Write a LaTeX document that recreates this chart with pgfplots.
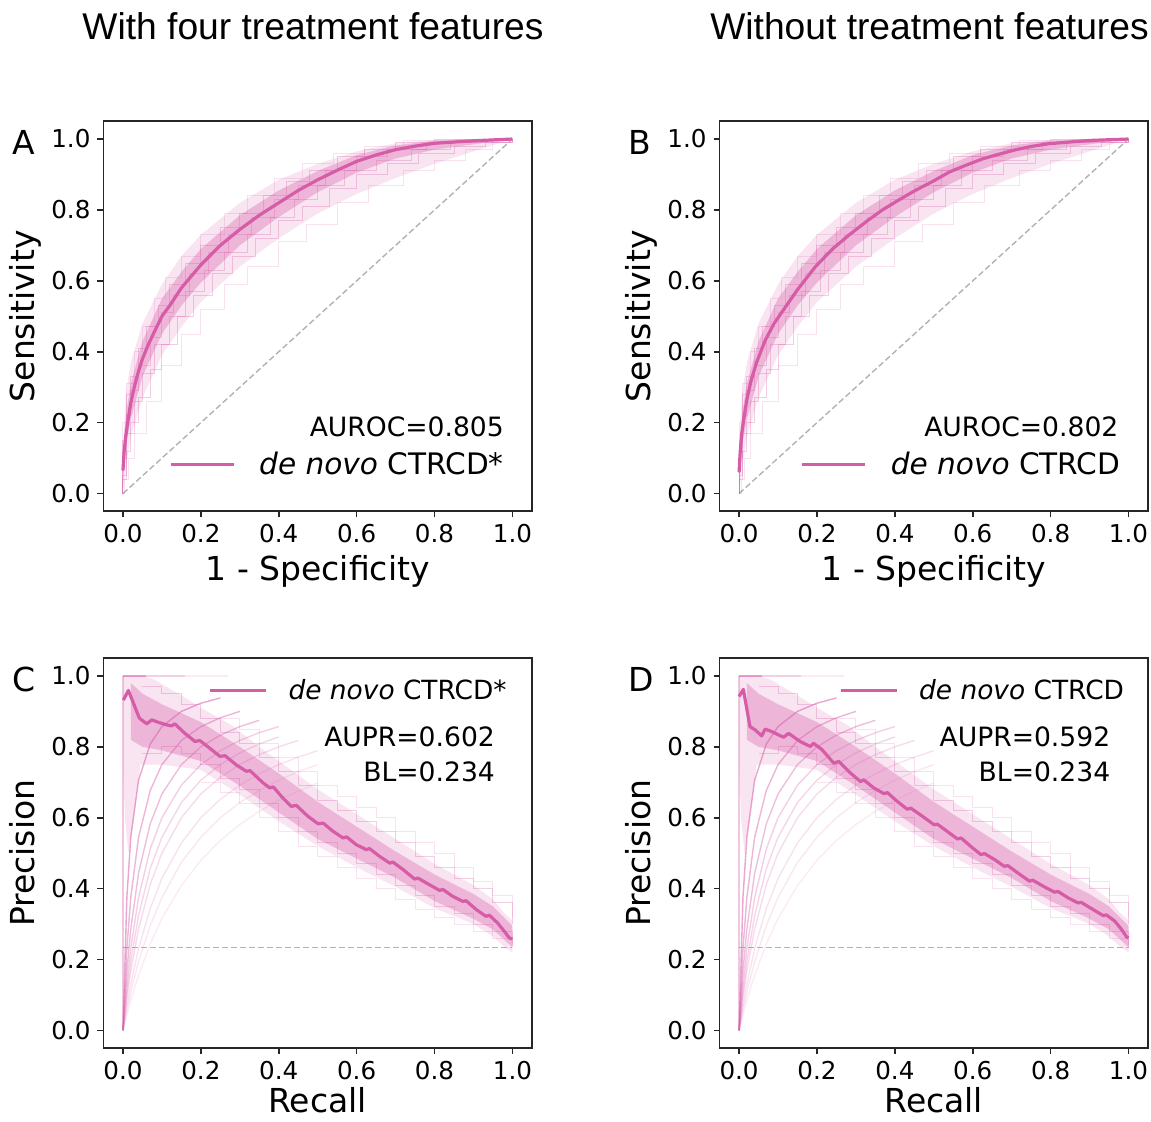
\documentclass[border=0pt]{standalone}
\usepackage{pgfplots}
\pgfplotsset{compat=1.18}
\usepackage{pgfplotstable}
\usepackage{fontspec}
\setmainfont{DejaVu Sans}
\newfontfamily\titlefont{Liberation Sans}
\definecolor{mpink}{RGB}{215,92,168}

% ---------------- ROC mean curves ----------------
\pgfplotstableread{
x y
0 0.065
0.003 0.12
0.007 0.16
0.012 0.20
0.02 0.255
0.03 0.305
0.04 0.345
0.05 0.38
0.065 0.42
0.08 0.455
0.1 0.50
0.12 0.53
0.15 0.58
0.2 0.645
0.25 0.70
0.3 0.745
0.35 0.785
0.4 0.82
0.45 0.855
0.5 0.885
0.55 0.912
0.6 0.937
0.65 0.955
0.7 0.97
0.75 0.98
0.8 0.988
0.9 0.995
1 1
}\rocmeanA
\pgfplotstableread{
x y
0 0.06
0.003 0.12
0.007 0.17
0.012 0.21
0.02 0.265
0.03 0.315
0.045 0.37
0.067 0.432
0.09 0.48
0.119 0.526
0.15 0.575
0.196 0.64
0.24 0.69
0.282 0.729
0.33 0.77
0.368 0.80
0.41 0.828
0.454 0.856
0.5 0.882
0.54 0.907
0.58 0.925
0.625 0.944
0.67 0.958
0.711 0.97
0.75 0.979
0.797 0.987
0.9 0.996
1 1
}\rocmeanB
% bootstrap envelopes (polygons)
\pgfplotstableread{
x y
0 0
0 0.12
0.005 0.24
0.01 0.30
0.02 0.37
0.05 0.48
0.1 0.59
0.15 0.67
0.2 0.73
0.3 0.82
0.4 0.885
0.5 0.93
0.6 0.965
0.7 0.988
0.8 0.998
1 1
0.9 0.965
0.8 0.93
0.7 0.89
0.6 0.845
0.5 0.79
0.4 0.72
0.3 0.64
0.2 0.54
0.15 0.47
0.1 0.39
0.05 0.27
0.02 0.16
0.01 0.09
0.003 0.03
}\rocouter
\pgfplotstableread{
x y
0 0.02
0 0.10
0.005 0.19
0.01 0.24
0.02 0.31
0.05 0.43
0.1 0.55
0.15 0.625
0.2 0.69
0.3 0.785
0.4 0.855
0.5 0.91
0.6 0.955
0.7 0.982
0.8 0.995
1 1
0.9 0.985
0.8 0.97
0.7 0.945
0.6 0.905
0.5 0.85
0.4 0.78
0.3 0.70
0.2 0.595
0.15 0.53
0.1 0.45
0.05 0.33
0.02 0.21
0.01 0.15
0.003 0.08
}\rocinner
% a few bootstrap staircases
\pgfplotstableread{
x y
0 0
0 0.15
0.01 0.28
0.02 0.33
0.04 0.41
0.06 0.47
0.09 0.53
0.12 0.59
0.16 0.65
0.2 0.70
0.25 0.75
0.3 0.79
0.36 0.84
0.42 0.88
0.48 0.91
0.55 0.95
0.62 0.97
0.7 0.99
0.8 1.0
1 1
}\rocbootA
\pgfplotstableread{
x y
0 0
0 0.05
0.01 0.12
0.02 0.20
0.04 0.27
0.07 0.35
0.1 0.42
0.14 0.50
0.18 0.56
0.23 0.62
0.28 0.67
0.34 0.72
0.4 0.77
0.46 0.81
0.53 0.86
0.6 0.90
0.68 0.93
0.76 0.96
0.85 0.98
0.93 0.99
1 1
}\rocbootB
\pgfplotstableread{
x y
0 0
0 0.2
0.01 0.31
0.03 0.40
0.05 0.47
0.08 0.55
0.11 0.61
0.15 0.67
0.2 0.73
0.26 0.79
0.32 0.84
0.39 0.89
0.46 0.93
0.54 0.96
0.62 0.98
0.72 0.995
0.85 1
1 1
}\rocbootC
\pgfplotstableread{
x y
0 0
0.005 0.04
0.015 0.10
0.03 0.17
0.06 0.26
0.1 0.36
0.15 0.45
0.2 0.52
0.26 0.59
0.32 0.64
0.4 0.71
0.47 0.76
0.55 0.82
0.63 0.87
0.72 0.91
0.8 0.94
0.88 0.97
0.95 0.99
1 1
}\rocbootD
\pgfplotstableread{
x y
0 0
0 0.10
0.01 0.22
0.02 0.29
0.04 0.36
0.07 0.44
0.1 0.51
0.13 0.56
0.17 0.62
0.22 0.68
0.27 0.73
0.33 0.78
0.39 0.83
0.45 0.87
0.52 0.91
0.6 0.95
0.68 0.97
0.78 0.99
0.9 1
1 1
}\rocbootE
\pgfplotstableread{
x y
0 0
0 0.04
0.01 0.17
0.03 0.26
0.05 0.34
0.08 0.42
0.12 0.50
0.16 0.57
0.21 0.63
0.26 0.68
0.32 0.73
0.38 0.78
0.44 0.83
0.5 0.87
0.57 0.91
0.65 0.94
0.74 0.97
0.84 0.99
1 1
}\rocbootF

% ---------------- PR mean curves ----------------
\pgfplotstableread{
x y
0.001 0.932
0.014 0.959
0.042 0.881
0.061 0.865
0.074 0.876
0.091 0.869
0.112 0.862
0.125 0.859
0.133 0.865
0.159 0.838
0.185 0.815
0.197 0.818
0.223 0.796
0.249 0.773
0.262 0.775
0.291 0.749
0.317 0.731
0.326 0.733
0.36 0.698
0.377 0.684
0.386 0.687
0.407 0.66
0.432 0.632
0.445 0.635
0.475 0.604
0.501 0.583
0.514 0.585
0.539 0.562
0.565 0.543
0.574 0.546
0.599 0.524
0.625 0.51
0.633 0.513
0.659 0.491
0.685 0.472
0.693 0.475
0.719 0.454
0.749 0.427
0.757 0.43
0.787 0.411
0.813 0.395
0.821 0.398
0.847 0.378
0.873 0.364
0.881 0.366
0.907 0.341
0.932 0.322
0.941 0.325
0.962 0.303
0.979 0.28
0.992 0.261
1.0 0.258
}\prmeanC
\pgfplotstableread{
x y
0 0.942
0.011 0.962
0.028 0.857
0.041 0.848
0.058 0.831
0.067 0.85
0.084 0.843
0.114 0.827
0.127 0.838
0.157 0.815
0.183 0.801
0.191 0.81
0.213 0.792
0.243 0.754
0.256 0.759
0.286 0.726
0.312 0.702
0.32 0.707
0.346 0.684
0.372 0.668
0.381 0.671
0.406 0.646
0.432 0.624
0.441 0.627
0.471 0.604
0.501 0.58
0.509 0.582
0.535 0.561
0.561 0.54
0.57 0.543
0.595 0.519
0.621 0.496
0.63 0.499
0.656 0.482
0.681 0.463
0.69 0.465
0.716 0.444
0.746 0.421
0.754 0.424
0.784 0.405
0.81 0.39
0.819 0.392
0.845 0.374
0.87 0.36
0.879 0.361
0.909 0.341
0.935 0.324
0.943 0.326
0.965 0.308
0.982 0.285
0.995 0.264
1 0.261
}\prmeanD
\pgfplotstableread{
x y
0 1
0.05 1
0.08 0.99
0.15 0.945
0.2 0.91
0.28 0.86
0.35 0.80
0.4 0.76
0.5 0.68
0.6 0.61
0.7 0.54
0.8 0.47
0.9 0.41
0.95 0.37
0.98 0.33
1 0.31
1 0.22
0.98 0.235
0.95 0.265
0.9 0.30
0.8 0.345
0.7 0.405
0.6 0.46
0.5 0.52
0.4 0.59
0.3 0.665
0.2 0.735
0.1 0.75
0.045 0.75
0.03 0.62
0.014 0.50
0.005 0.60
0 0.75
}\prouter
\pgfplotstableread{
x y
0.02 0.98
0.05 0.95
0.1 0.92
0.2 0.87
0.3 0.80
0.4 0.725
0.5 0.645
0.6 0.575
0.7 0.505
0.8 0.44
0.9 0.385
0.95 0.35
1 0.295
1 0.235
0.95 0.285
0.9 0.315
0.8 0.365
0.7 0.43
0.6 0.485
0.5 0.54
0.4 0.615
0.3 0.69
0.2 0.76
0.1 0.79
0.05 0.80
0.02 0.82
}\prinner
\pgfplotstableread{
x u1 l1 u2 l2
0.05 0.97 0.78 nan nan
0.1 0.95 0.80 nan nan
0.15 0.92 0.78 nan nan
0.2 0.88 0.75 nan 0.70
0.25 0.84 0.71 0.88 0.67
0.3 0.81 0.68 0.85 0.64
0.35 0.77 0.64 0.81 0.60
0.4 0.73 0.60 0.77 0.56
0.45 0.69 0.56 0.73 0.52
0.5 0.65 0.53 0.69 0.49
0.55 0.62 0.50 0.66 0.46
0.6 0.59 0.47 0.63 0.43
0.65 0.56 0.44 0.60 0.40
0.7 0.53 0.41 0.56 0.37
0.75 0.49 0.38 0.53 0.34
0.8 0.46 0.35 0.50 0.32
0.85 0.43 0.33 0.46 0.30
0.9 0.40 0.30 0.42 0.28
0.95 0.36 0.28 0.38 0.26
1 0.30 0.24 0.32 0.235
}\prboot
\pgfplotstableread{
r k1 k2 k3 k4 k5 k6 k8 k10 k13
0 0 0 0 0 0 0 0 0 0
0.01 0.375 0.231 0.167 0.13 0.107 0.091 0.07 0.057 0.044
0.02 0.545 0.375 0.286 0.231 0.194 0.167 0.13 0.107 0.085
0.04 0.706 0.545 0.444 0.375 0.324 0.286 0.231 0.194 0.156
0.07 0.808 0.677 0.583 0.512 0.457 0.412 0.344 0.296 0.244
0.1 0.857 0.75 0.667 0.6 0.545 0.5 0.429 0.375 0.316
0.15 0.9 0.818 0.75 0.692 0.643 0.6 0.529 0.474 0.409
0.2 0.923 0.857 0.8 0.75 0.706 0.667 0.6 0.545 0.48
0.25 0.938 0.882 0.833 0.789 0.75 0.714 0.652 0.6 0.536
0.3 nan 0.9 0.857 0.818 0.783 0.75 0.692 0.643 0.581
0.35 nan nan 0.875 0.84 0.808 0.778 0.724 0.677 0.618
0.4 nan nan nan 0.857 0.828 0.8 0.75 0.706 0.649
0.45 nan nan nan nan nan 0.818 0.771 0.73 0.675
0.5 nan nan nan nan nan nan 0.789 0.75 0.698
}\prarcs

\pgfplotsset{
  panel/.style={
    scale only axis, width=214.2pt, height=195pt,
    anchor=north west,
    xmin=-0.05, xmax=1.05, ymin=-0.05, ymax=1.05,
    xtick={0,0.2,0.4,0.6,0.8,1}, ytick={0,0.2,0.4,0.6,0.8,1},
    tick pos=left, tick align=outside, major tick length=3pt,
    axis line style={line width=0.8pt, black!85},
    every tick/.style={line width=0.8pt, black!85},
    ticklabel style={font=\fontsize{12.3}{14}\selectfont},
    /pgf/number format/fixed, /pgf/number format/fixed zerofill,
    /pgf/number format/precision=1, /pgf/number format/assume math mode=true,
    label style={font=\fontsize{16.5}{19}\selectfont, inner sep=0pt, outer sep=0pt},
    xlabel style={at={(axis description cs:0.5,-0.178)}, anchor=base},
    ylabel style={at={(axis description cs:-0.162,0.5)}, anchor=base},
    legend cell align=left,
    clip=true,
  },
  rocleg/.style={
    legend style={at={(axis description cs:#1,0.0873)}, anchor=south east,
      draw=none, fill=none, inner sep=0pt, outer sep=0pt,
      font=\fontsize{14.8}{17}\selectfont, nodes={inner sep=0pt}},
    legend image code/.code={\draw[mpink, line width=1.6pt] (0pt,0pt) -- (31.4pt,0pt); \path (43.4pt,0pt);},
  },
  prleg/.style={
    legend style={at={(axis description cs:#1,0.887)}, anchor=south east,
      draw=none, fill=none, inner sep=0pt, outer sep=0pt,
      font=\fontsize{13.2}{16}\selectfont, nodes={inner sep=0pt}},
    legend image code/.code={\draw[mpink, line width=1.6pt] (0pt,0pt) -- (27.9pt,0pt); \path (38.4pt,0pt);},
  },
  bandouter/.style={fill=mpink, fill opacity=0.16, draw=none, forget plot},
  bandinner/.style={fill=mpink, fill opacity=0.34, draw=none, forget plot},
  boot/.style={mpink, opacity=0.3, line width=0.5pt, forget plot, const plot},
  arc/.style={mpink, opacity=#1, line width=0.7pt, forget plot},
  meanline/.style={mpink, line width=1.6pt, line join=round},
  refline/.style={black!30, line width=0.7pt, dash pattern=on 3pt off 1.5pt, forget plot},
}

\newcommand{\rocbody}{%
  \addplot[refline] coordinates {(0,0) (1,1)};
  \addplot[bandouter] table {\rocouter};
  \addplot[bandinner] table {\rocinner};
  \addplot[boot] table {\rocbootA};
  \addplot[boot] table {\rocbootB};
  \addplot[boot, opacity=0.18] table {\rocbootC};
  \addplot[boot, opacity=0.18] table {\rocbootD};
  \addplot[boot] table {\rocbootE};
  \addplot[boot] table {\rocbootF};
}
\newcommand{\prbody}{%
  \addplot[refline] coordinates {(0,0.234) (1,0.234)};
  \addplot[bandouter] table {\prouter};
  \addplot[bandinner] table {\prinner};
  \addplot[boot] table[y=u1] {\prboot};
  \addplot[boot] table[y=l1] {\prboot};
  \addplot[boot, opacity=0.18] table[y=u2] {\prboot};
  \addplot[boot, opacity=0.18] table[y=l2] {\prboot};
  \addplot[arc=0.55] table[x=r, y=k1] {\prarcs};
  \addplot[arc=0.45] table[x=r, y=k2] {\prarcs};
  \addplot[arc=0.4] table[x=r, y=k3] {\prarcs};
  \addplot[arc=0.3] table[x=r, y=k4] {\prarcs};
  \addplot[arc=0.25] table[x=r, y=k5] {\prarcs};
  \addplot[arc=0.22] table[x=r, y=k6] {\prarcs};
  \addplot[arc=0.18] table[x=r, y=k8] {\prarcs};
  \addplot[arc=0.15] table[x=r, y=k10] {\prarcs};
  \addplot[arc=0.12] table[x=r, y=k13] {\prarcs};
  \addplot[mpink, opacity=0.35, line width=0.6pt, forget plot] coordinates {(0,0) (0,1)};
  \addplot[mpink, opacity=0.6, line width=0.8pt, forget plot] coordinates {(0,1) (0.06,1)};
  \addplot[mpink, opacity=0.3, line width=0.8pt, forget plot] coordinates {(0.06,1) (0.16,1)};
  \addplot[mpink, opacity=0.12, line width=0.8pt, forget plot] coordinates {(0.16,1) (0.27,1)};
}

\begin{document}
\begin{tikzpicture}
\useasboundingbox (0,0) rectangle (575.5pt,-561pt);
\node[font=\titlefont\fontsize{18.6}{22}\selectfont, anchor=base, inner sep=0pt] at (156.5pt,-19.7pt) {With four treatment features};
\node[font=\titlefont\fontsize{18.6}{22}\selectfont, anchor=base, inner sep=0pt] at (464.75pt,-19.7pt) {Without treatment features};

% ---- A ----
\begin{axis}[panel, rocleg=0.934, at={(51.75pt,-60.65pt)},
  xlabel={1 - Specificity}, ylabel={Sensitivity}]
  \rocbody
  \addplot[meanline] table {\rocmeanA};
  \addlegendentry{\textit{de novo} CTRCD*}
  \node[anchor=base east, inner sep=0pt, font=\fontsize{13.3}{16}\selectfont] at (axis cs:0.979,0.162) {AUROC=0.805};
\end{axis}
% ---- B ----
\begin{axis}[panel, rocleg=0.9355, at={(359.8pt,-60.65pt)},
  xlabel={1 - Specificity}, ylabel={Sensitivity}]
  \rocbody
  \addplot[meanline] table {\rocmeanB};
  \addlegendentry{\textit{de novo} CTRCD}
  \node[anchor=base east, inner sep=0pt, font=\fontsize{13.3}{16}\selectfont] at (axis cs:0.975,0.162) {AUROC=0.802};
\end{axis}
% ---- C ----
\begin{axis}[panel, prleg=0.941, at={(51.75pt,-329.1pt)},
  xlabel={Recall}, ylabel={Precision},
  xlabel style={at={(axis description cs:0.5,-0.166)}, text depth=0pt}]
  \prbody
  \addplot[meanline] table {\prmeanC};
  \addlegendentry{\textit{de novo} CTRCD*}
  \node[anchor=base east, inner sep=0pt, font=\fontsize{13.3}{16}\selectfont] at (axis cs:0.956,0.801) {AUPR=0.602};
  \node[anchor=base east, inner sep=0pt, font=\fontsize{13.3}{16}\selectfont] at (axis cs:0.956,0.702) {BL=0.234};
\end{axis}
% ---- D ----
\begin{axis}[panel, prleg=0.944, at={(359.8pt,-329.1pt)},
  xlabel={Recall}, ylabel={Precision},
  xlabel style={at={(axis description cs:0.5,-0.166)}, text depth=0pt}]
  \prbody
  \addplot[meanline] table {\prmeanD};
  \addlegendentry{\textit{de novo} CTRCD}
  \node[anchor=base east, inner sep=0pt, font=\fontsize{13.3}{16}\selectfont] at (axis cs:0.954,0.801) {AUPR=0.592};
  \node[anchor=base east, inner sep=0pt, font=\fontsize{13.3}{16}\selectfont] at (axis cs:0.954,0.702) {BL=0.234};
\end{axis}

\node[anchor=base west, inner sep=0pt, font=\fontsize{16.5}{19}\selectfont] at (6.2pt,-77.15pt) {A};
\node[anchor=base west, inner sep=0pt, font=\fontsize{16.5}{19}\selectfont] at (314.0pt,-77.15pt) {B};
\node[anchor=base west, inner sep=0pt, font=\fontsize{16.5}{19}\selectfont] at (6.2pt,-345.85pt) {C};
\node[anchor=base west, inner sep=0pt, font=\fontsize{16.5}{19}\selectfont] at (314.0pt,-345.85pt) {D};
\end{tikzpicture}
\end{document}
